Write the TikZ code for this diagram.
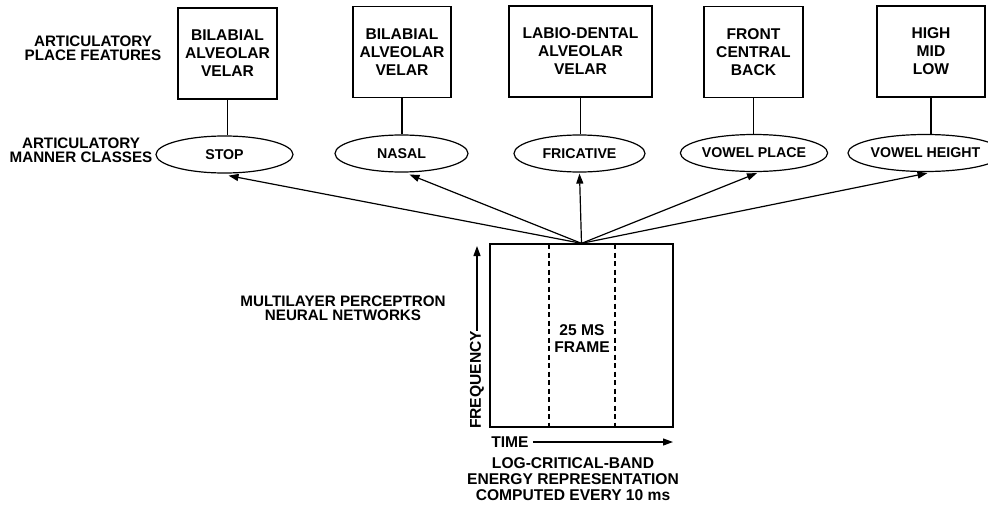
\documentclass[tikz,border=0pt]{standalone}
\usepackage{fontspec}
\setmainfont{Liberation Sans}
\usetikzlibrary{arrows.meta,shapes.geometric}
\begin{document}
\begin{tikzpicture}[x=1pt,y=-1pt,
  every node/.style={font=\bfseries\fontsize{15.6}{18}\selectfont, align=center, inner sep=0pt},
  placebox/.style={draw, line width=1.3pt, minimum height=91pt},
  manner/.style={draw, ellipse, line width=1.2pt, minimum height=37pt, font=\bfseries\fontsize{14.2}{16}\selectfont},
  lbl/.style={font=\bfseries\fontsize{15.2}{14}\selectfont},
  conn/.style={line width=1.3pt},
  arr/.style={line width=1.2pt, -{Triangle[length=10pt,width=7pt]}},
  framebox/.style={draw, line width=1.3pt, minimum width=183pt, minimum height=183pt},
  dashline/.style={line width=1.2pt, dash pattern=on 5pt off 3.5pt}
]
\useasboundingbox (0,0) rectangle (988,506);

% place feature boxes
\node[placebox, minimum width=99pt]  (b1) at (227.5,53.5) {BILABIAL\\ALVEOLAR\\VELAR};
\node[placebox, minimum width=98pt]  (b2) at (402,52) {BILABIAL\\ALVEOLAR\\VELAR};
\node[placebox, minimum width=143pt] (b3) at (580.5,51.5) {LABIO-DENTAL\\ALVEOLAR\\VELAR};
\node[placebox, minimum width=99pt]  (b4) at (753.5,52) {FRONT\\CENTRAL\\BACK};
\node[placebox, minimum width=108pt] (b5) at (931,51.5) {HIGH\\MID\\LOW};

% manner ellipses
\node[manner, minimum width=137pt] (e1) at (224.5,154.5) {STOP};
\node[manner, minimum width=133pt] (e2) at (401.5,153.5) {NASAL};
\node[manner, minimum width=131pt] (e3) at (579.5,153.5) {FRICATIVE};
\node[manner, minimum width=128pt] (e4) at (754,153) {VOWEL PLACE};
\node[manner, minimum width=123pt] (e5) at (925.5,153) {VOWEL HEIGHT};

\foreach \i in {1,...,5} { \draw[conn] (b\i.south) -- (b\i.south |- e\i.north); }

% labels
\node[lbl] (l1) at (93,48) {ARTICULATORY\\PLACE FEATURES};
\node[lbl] (l2) at (81,150) {ARTICULATORY\\MANNER CLASSES};
\node[lbl] (l3) at (343,308.5) {MULTILAYER PERCEPTRON\\NEURAL NETWORKS};

% spectrogram frame
\node[framebox] (spec) at (581.5,335.5) {};
\coordinate (src) at (spec.north);
\coordinate (d1t) at (549,244); \coordinate (d1b) at (549,427);
\coordinate (d2t) at (615,244); \coordinate (d2b) at (615,427);
\draw[dashline] (d1t) -- (d1b);
\draw[dashline] (d2t) -- (d2b);
\node[font=\bfseries\fontsize{15.6}{16.5}\selectfont] (frm) at (582,338.5) {25 MS\\FRAME};

% arrows to the manner classes
\coordinate (t1) at ([xshift=4pt,yshift=-2pt]e1.south);
\coordinate (t2) at ([xshift=8pt,yshift=-2pt]e2.south);
\coordinate (t3) at ([yshift=-1pt]e3.south);
\coordinate (t4) at ([xshift=3pt,yshift=-1pt]e4.south);
\coordinate (t5) at ([xshift=2pt,yshift=-1pt]e5.south);
\foreach \i in {1,...,5} { \draw[arr] (src) -- (t\i); }

% axes
\node[rotate=90] (freq) at (477,380) {FREQUENCY};
\coordinate (ftop) at (477,246);
\draw[arr] (freq.east) -- (ftop);
\node (time) at (510,442) {TIME};
\coordinate (tend) at (673,442);
\draw[arr] ([xshift=4pt]time.east) -- (tend);

\node[font=\bfseries\fontsize{15.6}{16}\selectfont] (cap) at (573,479) {LOG-CRITICAL-BAND\\ENERGY REPRESENTATION\\COMPUTED EVERY 10 ms};
\end{tikzpicture}
\end{document}
